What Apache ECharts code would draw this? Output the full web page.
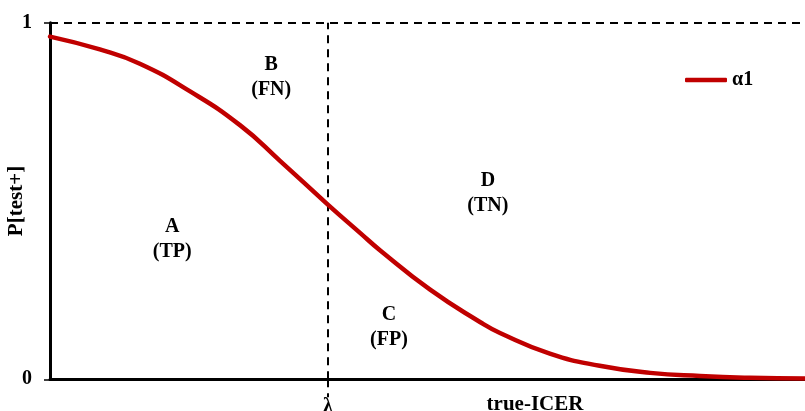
<!DOCTYPE html>
<html>
<head>
<meta charset="utf-8">
<script src="https://cdn.jsdelivr.net/npm/echarts@6/dist/echarts.min.js"></script>
<style>
html,body{margin:0;padding:0;background:#fff;}
#chart{width:805px;height:411px;}
</style>
</head>
<body>
<div id="chart"></div>
<script>
// Data (x in abstract units 0..100 along true-ICER, y = P[test+])
const xValues = [0, 6.6, 11.9, 18.5, 25.2, 30.5, 36.8, 41.1, 43.7, 50.3, 57.0, 59.6, 66.2, 72.8, 79.5, 86.1, 92.7, 100];
const probValues = [0.961, 0.925, 0.885, 0.808, 0.712, 0.612, 0.490, 0.410, 0.362, 0.252, 0.160, 0.130, 0.072, 0.038, 0.018, 0.009, 0.004, 0.002];
const seriesName = 'α1';
const lambdaValue = 36.8;
const lambdaLabel = 'λ';
const yTickValues = [0, 1];
const xAxisName = 'true-ICER';
const yAxisName = 'P[test+]';
const regionLabels = ['A\n(TP)', 'B\n(FN)', 'C\n(FP)', 'D\n(TN)'];
const regionX = [16.2, 29.3, 44.9, 58.0];
const regionY = [0.392, 0.848, 0.145, 0.522];

const FONT = '"Liberation Serif", "Times New Roman", serif';
const chart = echarts.init(document.getElementById('chart'), null, {renderer: 'canvas'});
const lineData = xValues.map((x, i) => [x, probValues[i]]);
const regionData = regionLabels.map((t, i) => ({value: [regionX[i], regionY[i]], label: {formatter: t}}));

chart.setOption({
  animation: false,
  backgroundColor: '#fff',
  grid: {left: 50, right: 0, top: 22.7, bottom: 31.7, containLabel: false, outerBoundsMode: 'none'},
  legend: {
    data: [{name: seriesName, icon: 'roundRect'}],
    left: 685, top: 70, padding: 0,
    itemWidth: 42, itemHeight: 4.5,
    itemStyle: {color: '#C00000'},
    textStyle: {fontFamily: FONT, fontWeight: 'bold', fontSize: 20, color: '#000'}
  },
  xAxis: {
    type: 'value', min: 0, max: 100,
    name: xAxisName, nameLocation: 'middle', nameGap: 15, nameMoveOverlap: false,
    nameTextStyle: {fontFamily: FONT, fontWeight: 'bold', fontSize: 21, color: '#000', padding: [0, 0, 0, 215]},
    axisLine: {show: true, onZero: false, lineStyle: {color: '#000', width: 3}},
    axisTick: {show: true, customValues: [lambdaValue], length: 18, lineStyle: {color: '#000', width: 2, type: [8, 6]}},
    axisLabel: {show: true, customValues: [lambdaValue], formatter: () => lambdaLabel, margin: 18,
      fontFamily: FONT, fontWeight: 'bold', fontSize: 20, color: '#000'},
    splitLine: {show: false}
  },
  yAxis: {
    type: 'value', min: 0, max: 1, interval: 1,
    name: yAxisName, nameLocation: 'middle', nameGap: 23, nameMoveOverlap: false,
    nameTextStyle: {fontFamily: FONT, fontWeight: 'bold', fontSize: 21, color: '#000'},
    axisLine: {show: true, lineStyle: {color: '#000', width: 3}},
    axisTick: {show: true, customValues: yTickValues, length: 6, lineStyle: {color: '#000', width: 1.5}},
    axisLabel: {show: true, customValues: yTickValues, margin: 18, fontFamily: FONT, fontWeight: 'bold', fontSize: 20, color: '#000'},
    splitLine: {show: false}
  },
  series: [
    {
      name: seriesName,
      type: 'line',
      data: lineData,
      smooth: 0.5,
      showSymbol: false,
      symbol: 'none',
      lineStyle: {color: '#C00000', width: 4.5, cap: 'round'},
      itemStyle: {color: '#C00000'},
      z: 5,
      markLine: {
        silent: true,
        symbol: ['none', 'none'],
        label: {show: false},
        lineStyle: {color: '#000', width: 2, type: [8, 6]},
        data: [{yAxis: 1}, {xAxis: lambdaValue}]
      }
    },
    {
      type: 'scatter',
      data: regionData,
      symbolSize: 1,
      silent: true,
      itemStyle: {opacity: 1, color: 'rgba(0,0,0,0)'},
      label: {show: true, position: 'inside', fontFamily: FONT, fontWeight: 'bold', fontSize: 20,
        color: '#000', opacity: 1, lineHeight: 25, align: 'center', verticalAlign: 'middle'}
    }
  ]
});
</script>
</body>
</html>
